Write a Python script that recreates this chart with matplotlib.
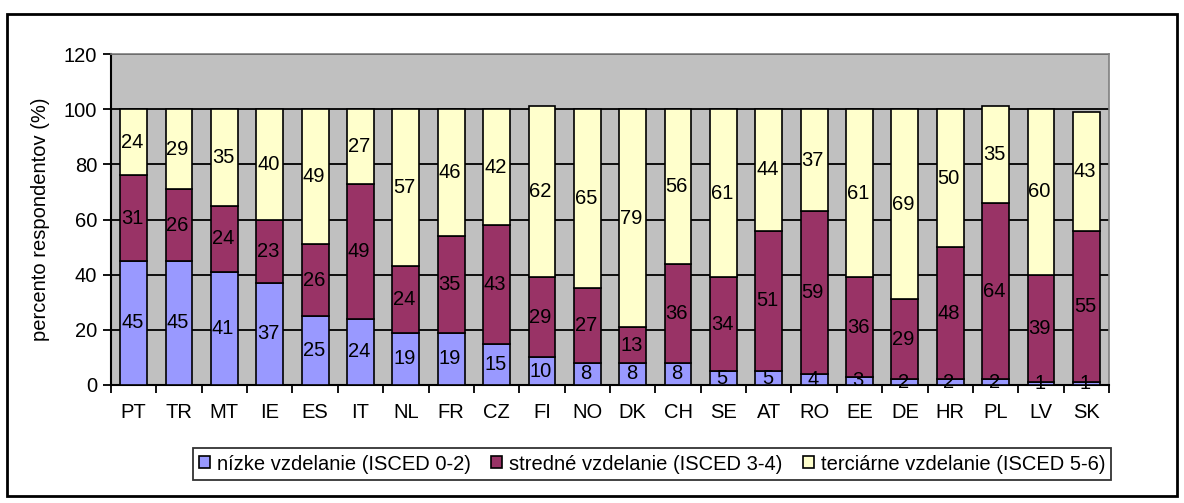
import numpy as np
import matplotlib.pyplot as plt
from matplotlib.patches import Rectangle

plt.rcParams['font.family'] = ['Liberation Sans', 'DejaVu Sans']

countries = ['PT', 'TR', 'MT', 'IE', 'ES', 'IT', 'NL', 'FR', 'CZ', 'FI', 'NO',
             'DK', 'CH', 'SE', 'AT', 'RO', 'EE', 'DE', 'HR', 'PL', 'LV', 'SK']
nizke = [45, 45, 41, 37, 25, 24, 19, 19, 15, 10, 8, 8, 8, 5, 5, 4, 3, 2, 2, 2, 1, 1]
stredne = [31, 26, 24, 23, 26, 49, 24, 35, 43, 29, 27, 13, 36, 34, 51, 59, 36, 29, 48, 64, 39, 55]
terciarne = [24, 29, 35, 40, 49, 27, 57, 46, 42, 62, 65, 79, 56, 61, 44, 37, 61, 69, 50, 35, 60, 43]
series_names = ['nízke vzdelanie (ISCED 0-2)', 'stredné vzdelanie (ISCED 3-4)',
                'terciárne vzdelanie (ISCED 5-6)']
colors = ['#9999FF', '#993366', '#FFFFCC']
fs = 14.5

fig = plt.figure(figsize=(11.84, 5.03), dpi=100)
ax = fig.add_axes([111/1184, 1-385/503, (1109-111)/1184, (385-54)/503])
ax.set_facecolor('#C0C0C0')

x = np.arange(len(countries))
bottom = np.zeros(len(countries))
for vals, col, name in zip([nizke, stredne, terciarne], colors, series_names):
    vals = np.array(vals, dtype=float)
    ax.bar(x, vals, bottom=bottom, width=0.59, color=col, edgecolor='black',
           linewidth=1.2, label=name, zorder=3)
    for xi, b, v in zip(x, bottom, vals):
        ax.text(xi - 0.03, b + v/2, '%d' % v, ha='center', va='center', fontsize=fs, zorder=4)
    bottom += vals

ax.set_ylim(0, 120)
ax.set_xlim(-0.5, len(countries) - 0.5)
ax.set_yticks(range(0, 121, 20))
ax.yaxis.grid(True, color='black', linewidth=1.3, zorder=0)
ax.set_axisbelow(True)
ax.set_xticks(x)
ax.set_xticklabels(countries, fontsize=fs)
ax.set_xticks(np.arange(-0.5, len(countries), 1), minor=True)
ax.tick_params(axis='x', which='major', length=0, pad=13)
ax.tick_params(axis='x', which='minor', length=6, width=1.3, direction='out')
ax.tick_params(axis='y', length=6, width=1.3, labelsize=fs, pad=4)
ax.set_ylabel('percento respondentov (%)', fontsize=fs, labelpad=10)
for s in ['left', 'bottom']:
    ax.spines[s].set_linewidth(1.5)
    ax.spines[s].set_color('black')
for s in ['top', 'right']:
    ax.spines[s].set_color('#808080')
    ax.spines[s].set_linewidth(1.2)

leg = fig.legend(loc='center', bbox_to_anchor=(652/1184, 1-464/503), ncol=3,
                 frameon=True, fancybox=False, fontsize=fs, handlelength=0.55,
                 handleheight=0.55, handletextpad=0.35, columnspacing=1.0,
                 borderpad=0.3, borderaxespad=0, edgecolor='black')
leg.get_frame().set_linewidth(1.3)

fig.patches.append(Rectangle((7/1184, 1-496/503), (1177-7)/1184, (496-14)/503,
                             transform=fig.transFigure, fill=False,
                             edgecolor='black', linewidth=2))

fig.savefig('out.png', dpi=100)
